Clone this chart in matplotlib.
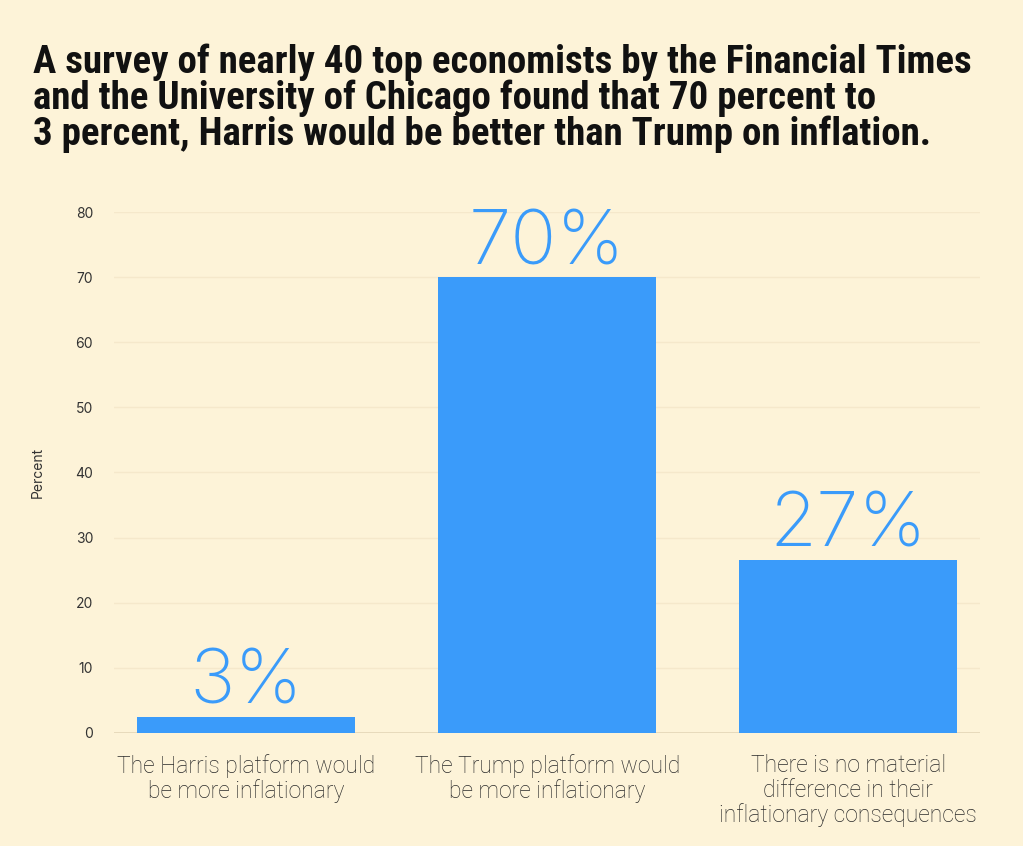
import matplotlib.pyplot as plt

# data
categories = ["The Harris platform would\nbe more inflationary",
              "The Trump platform would\nbe more inflationary",
              "There is no material\ndifference in their\ninflationary consequences"]
values = [2.5, 70, 26.6]
value_labels = ["3%", "70%", "27%"]
yticks = [0, 10, 20, 30, 40, 50, 60, 70, 80]

title = ("A survey of nearly 40 top economists by the Financial Times\n"
         "and the University of Chicago found that 70 percent to\n"
         "3 percent, Harris would be better than Trump on inflation.")

bg = "#fdf3d8"
blue = "#3a9bfa"

fig = plt.figure(figsize=(10.23, 8.46), dpi=100, facecolor=bg)
ax = fig.add_axes([0.1114, 0.1336, 0.847, 0.6158], facecolor=bg)

x = range(len(categories))
bars = ax.bar(x, values, width=0.725, color=blue, zorder=3)

for b, lab in zip(bars, value_labels):
    ax.text(b.get_x() + b.get_width() / 2, b.get_height() + 2, lab,
            ha="center", va="baseline", color=blue, fontsize=55,
            family=["Inter", "DejaVu Sans"], fontweight="light")

ax.set_xlim(-0.44, 2.44)
ax.set_ylim(0, 80)
ax.set_yticks(yticks)
ax.set_xticks(list(x))
ax.set_xticklabels(categories, family=["Roboto", "DejaVu Sans"], fontweight="light",
                   fontsize=16.5, color="#2a2a2a", linespacing=1.1)
for t in ax.get_yticklabels():
    t.set_family(["Inter", "DejaVu Sans"])
    t.set_fontsize(10)
    t.set_color("#333333")
ax.tick_params(axis="x", length=0, pad=15)
ax.tick_params(axis="y", length=0, pad=15)
ax.grid(axis="y", color="#f5e8cb", linewidth=1, zorder=0)
ax.axhline(0, color="#e3d6b8", linewidth=1.2, zorder=2)
for s in ax.spines.values():
    s.set_visible(False)

ax.set_ylabel("Percent", family=["Inter", "DejaVu Sans"], fontsize=10, color="#333333")
ax.yaxis.set_label_coords(-0.08, 0.5)

fig.text(0.032, 0.948, title, ha="left", va="top", fontsize=28, color="#111111",
         family=["Liberation Sans Narrow", "Roboto Condensed", "DejaVu Sans"],
         fontweight="heavy", linespacing=0.95)

fig.savefig("out.png", dpi=100, facecolor=bg)
